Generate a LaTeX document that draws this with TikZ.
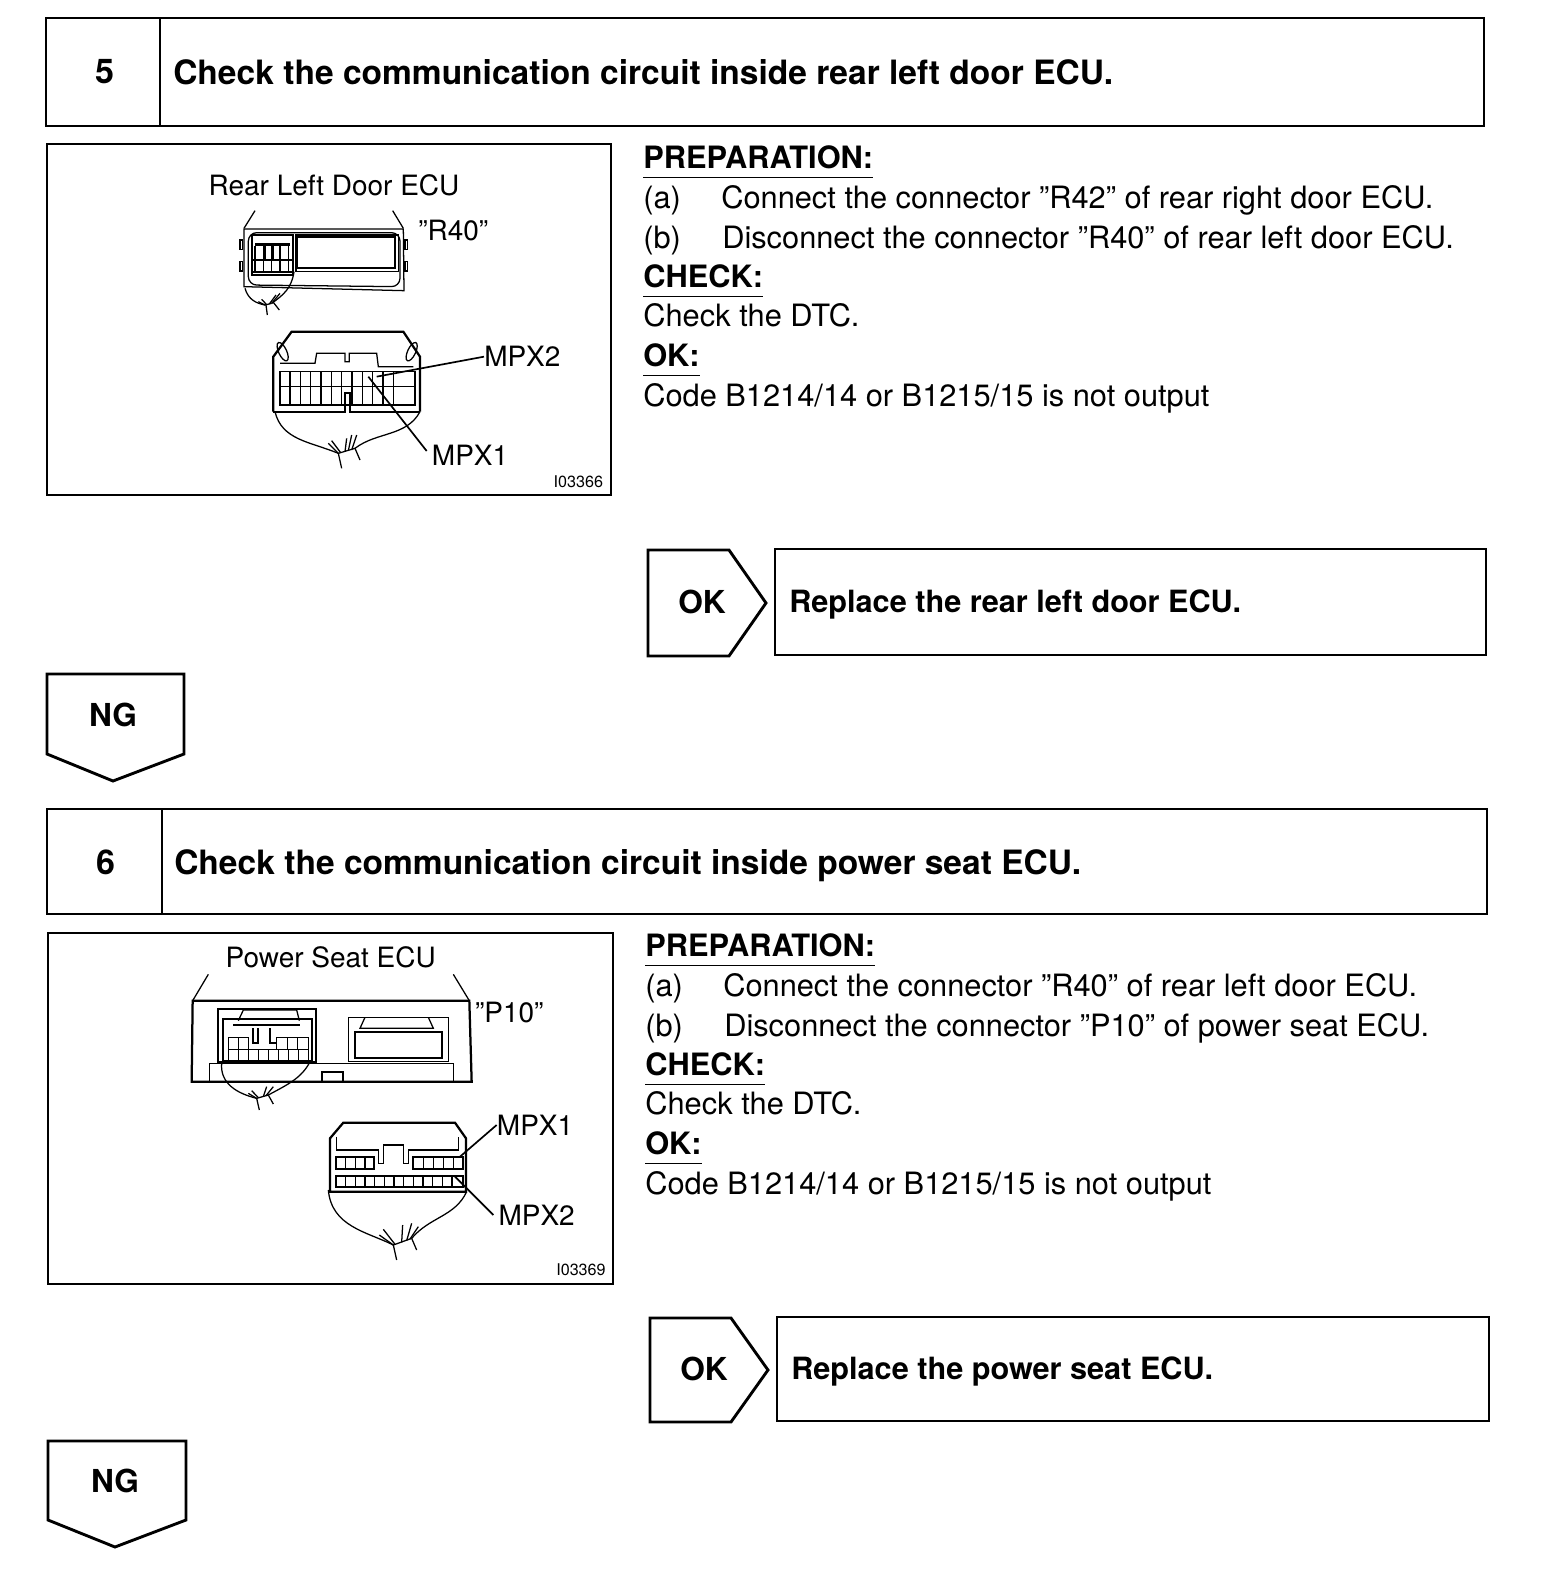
\documentclass[tikz,border=0pt]{standalone}
\usepackage{fontspec}
\setmainfont{TeX Gyre Heros}
\usetikzlibrary{positioning, calc}

\tikzset{
    frame/.style={draw=black, line width=2.05pt, fill=white},
    rule/.style={black, line width=1pt},
    fine/.style={black, line width=0.9pt},
    heavy/.style={black, line width=1.6pt},
    leader/.style={black, line width=1.2pt},
    title/.style={font=\bfseries\fontsize{23.85}{28}\selectfont, anchor=base west, inner sep=0pt},
    number/.style={font=\bfseries\fontsize{24.2}{28}\selectfont, inner sep=0pt},
    answer/.style={font=\bfseries\fontsize{22.5}{26}\selectfont, inner sep=0pt},
    remedy/.style={font=\bfseries\fontsize{21.8}{26}\selectfont, anchor=base west, inner sep=0pt},
    body/.style={font=\fontsize{21.9}{26}\selectfont, anchor=base west, inner sep=0pt},
    head/.style={font=\bfseries\fontsize{21.9}{26}\selectfont, anchor=base west, inner xsep=0pt, inner ysep=6.6pt, text depth=0pt},
    callout/.style={font=\fontsize{19.9}{24}\selectfont, inner sep=0pt},
    figno/.style={font=\fontsize{11.5}{14}\selectfont, inner sep=0pt},
}

\begin{document}
\begin{tikzpicture}[x=0.25mm, y=-0.25mm]

\useasboundingbox (0,0) rectangle (1568,1576);

% ---------------------------------------------------------------- step 5
\draw[frame] (46,18) rectangle (1484,126);
\draw[frame] (160,18) -- (160,126);
\node[number] (numA) at (105,72) {5};
\node[title] (titleA) at (173,84) {Check the communication circuit inside rear left door ECU.};

\draw[frame] (47,144) rectangle (611,495);

\node[head] (prepA) at (643,168) {PREPARATION:};
\draw[rule] (prepA.south west) -- (prepA.south east);
\node[body] (itemAa) at (643,208) {(a)};
\node[body] (textAa) at (721,208) {Connect the connector ”R42” of rear right door ECU.};
\node[body] (itemAb) at (643,248) {(b)};
\node[body] (textAb) at (722,248) {Disconnect the connector ”R40” of rear left door ECU.};
\node[head] (checkA) at (643,287) {CHECK:};
\draw[rule] (checkA.south west) -- (checkA.south east);
\node[body] (dtcA) at (643,326) {Check the DTC.};
\node[head] (okA) at (643,366) {OK:};
\draw[rule] (okA.south west) -- (okA.south east);
\node[body] (codeA) at (643,406) {Code B1214/14 or B1215/15 is not output};

% ---------------------------------------------------------------- drawing of step 5, in crop pixels
\begin{scope}[shift={(190,160)}, scale=1/3]
    \node[callout] (ecuA) at (432,75) {Rear Left Door ECU};
    \node[callout] (plugA) at (790,212) {”R40”};
    \node[callout, anchor=west] (mpxAb) at (882,590) {MPX2};
    \node[callout, anchor=west] (mpxAa) at (725,885) {MPX1};
    \node[figno, anchor=east] (noA) at (1240,965) {I03366};

    % the ECU
    \draw[fine] (195,152) -- (162,205);
    \draw[fine] (608,152) -- (640,205);
    \draw[fine] (162,207) -- (640,207) -- (642,392) -- (162,380) -- cycle;
    \draw[fine, rounded corners=6pt] (175,218) -- (630,218) -- (630,380) -- (175,375) -- cycle;
    \draw[heavy] (185,225) rectangle (310,345);
    \draw[heavy] (322,232) rectangle (615,325);
    \draw[fine] (318,225) rectangle (625,335);
    \foreach \x/\y in {150/240, 150/305, 645/240, 645/305} {
        \draw[fine] (\x,\y) rectangle ++(8,28);
    }
    \fill (195,250) rectangle (300,258);
    \foreach \x in {195,220,...,295} {
        \draw[fine] (\x,258) -- (\x,335);
    }
    \draw[fine] (190,300) -- (305,300);
    \draw[heavy] (190,335) -- (305,335);
    \draw[heavy] (225,258) -- (225,300) -- (250,300) -- (250,258);

    % its wires
    \draw[fine] (165,385) .. controls (175,420) and (200,430) .. (225,435) -- (245,430);
    \draw[fine] (312,335) .. controls (305,385) and (280,405) .. (245,430);
    \foreach \xa/\ya/\xb/\yb in {225/435/205/425, 230/434/215/418, 238/432/258/405, 245/430/270/400, 228/435/232/465, 250/427/268/450} {
        \draw[fine] (\xa,\ya) -- (\xb,\yb);
    }

    % the connector
    \draw[heavy] (250,755) -- (250,590) -- (305,515) -- (640,515) -- (690,590) -- (690,755);
    \draw[heavy] (250,755) -- (465,755) -- (465,700) -- (480,700) -- (480,755) -- (690,755);
    \draw[fine] (270,610) -- (375,610) -- (380,580) -- (465,580) -- (465,605) -- (478,605)
        -- (478,580) -- (560,580) -- (565,620) -- (670,620);
    \draw[fine, rotate around={25:(278,575)}] (278,575) ellipse (12 and 30);
    \draw[fine, rotate around={-25:(665,575)}] (665,575) ellipse (12 and 30);
    \draw[fine] (270,635) rectangle (675,735);
    \draw[fine] (270,680) -- (675,680);
    \foreach \x in {300,331,...,640} {
        \draw[fine] (\x,635) -- (\x,735);
    }

    % its wires
    \draw[fine] (255,755) .. controls (275,840) and (360,845) .. (445,880) -- (495,865);
    \draw[fine] (690,755) .. controls (650,830) and (560,815) .. (495,865);
    \foreach \xa/\ya/\xb/\yb in {445/880/415/850, 452/878/425/842, 465/875/470/835, 475/872/485/825, 485/870/500/825, 445/880/455/925, 495/865/510/900} {
        \draw[fine] (\xa,\ya) -- (\xb,\yb);
    }

    % the pins that are named
    \coordinate (pinAb) at (560,650);
    \coordinate (pinAa) at (535,650);
    \draw[leader] (mpxAb.west) -- (pinAb);
    \draw[leader] (mpxAa.west) ++(-15,-12) -- (pinAa);
\end{scope}

% ---------------------------------------------------------------- result of step 5
\draw[frame] (648,550) -- (729,550) -- (766,603) -- (729,656) -- (648,656) -- cycle;
\node[answer] (passA) at (702,602) {OK};
\draw[frame] (775,549) rectangle (1486,655);
\node[remedy] (fixA) at (789,612) {Replace the rear left door ECU.};
\draw[frame] (47,674) -- (184,674) -- (184,754) -- (113,781) -- (47,754) -- cycle;
\node[answer] (failA) at (113,715) {NG};

% ---------------------------------------------------------------- step 6
\draw[frame] (47,809) rectangle (1487,914);
\draw[frame] (162,809) -- (162,914);
\node[number] (numB) at (106,862) {6};
\node[title] (titleB) at (174,874) {Check the communication circuit inside power seat ECU.};

\draw[frame] (48,933) rectangle (613,1284);

\node[head] (prepB) at (645,956) {PREPARATION:};
\draw[rule] (prepB.south west) -- (prepB.south east);
\node[body] (itemBa) at (645,996) {(a)};
\node[body] (textBa) at (723,996) {Connect the connector ”R40” of rear left door ECU.};
\node[body] (itemBb) at (645,1036) {(b)};
\node[body] (textBb) at (724,1036) {Disconnect the connector ”P10” of power seat ECU.};
\node[head] (checkB) at (645,1075) {CHECK:};
\draw[rule] (checkB.south west) -- (checkB.south east);
\node[body] (dtcB) at (645,1114) {Check the DTC.};
\node[head] (okB) at (645,1154) {OK:};
\draw[rule] (okB.south west) -- (okB.south east);
\node[body] (codeB) at (645,1194) {Code B1214/14 or B1215/15 is not output};

% ---------------------------------------------------------------- drawing of step 6, in crop pixels
\begin{scope}[shift={(180,930)}, scale=1/3]
    \node[callout] (ecuB) at (452,82) {Power Seat ECU};
    \node[callout] (plugB) at (988,248) {”P10”};
    \node[callout, anchor=west] (mpxBa) at (950,585) {MPX1};
    \node[callout, anchor=west] (mpxBb) at (955,855) {MPX2};
    \node[figno, anchor=east] (noB) at (1278,1020) {I03369};

    % the ECU
    \draw[fine] (85,133) -- (38,212);
    \draw[fine] (820,133) -- (868,212);
    \draw[heavy] (38,212) -- (868,212) -- (875,455) -- (35,455) -- cycle;
    \draw[fine] (88,455) -- (88,400) -- (820,400) -- (820,455);
    \draw[heavy] (425,452) -- (425,425) -- (488,425) -- (488,452);
    \draw[heavy] (115,238) rectangle (408,395);
    \draw[heavy] (130,268) rectangle (395,392);
    \draw[fine] (175,272) -- (190,240) -- (350,240) -- (358,272);
    \draw[heavy] (160,285) -- (360,285);
    \draw[heavy] (220,295) -- (220,340) -- (235,340) -- (235,295);
    \draw[heavy] (270,295) -- (270,340) -- (290,340);
    \draw[fine] (145,322) -- (205,322);
    \draw[fine] (290,322) -- (385,322);
    \draw[fine] (145,358) rectangle (385,392);
    \foreach \x in {145,175,205} {
        \draw[fine] (\x,322) -- (\x,358);
    }
    \foreach \x in {290,322,353,385} {
        \draw[fine] (\x,322) -- (\x,358);
    }
    \foreach \x in {175,205,...,355} {
        \draw[fine] (\x,358) -- (\x,392);
    }
    \draw[fine] (505,262) rectangle (805,395);
    \draw[heavy] (525,305) rectangle (785,385);
    \draw[fine] (555,262) -- (540,295) -- (760,295) -- (745,262);

    % its wires
    \draw[fine] (125,400) .. controls (120,460) and (170,490) .. (230,505) -- (265,495);
    \draw[fine] (390,395) .. controls (365,445) and (320,465) .. (265,495);
    \foreach \xa/\ya/\xb/\yb in {230/505/205/490, 235/503/215/482, 250/500/260/470, 258/497/280/470, 230/505/238/540, 265/495/280/522} {
        \draw[fine] (\xa,\ya) -- (\xb,\yb);
    }

    % the connector
    \draw[heavy] (450,785) -- (450,625) -- (490,578) -- (825,578) -- (858,625) -- (858,785) -- cycle;
    \draw[fine] (470,620) -- (470,660) -- (595,660) -- (595,700) -- (610,700) -- (610,645)
        -- (670,645) -- (670,700) -- (685,700) -- (685,660) -- (835,660) -- (835,620);
    \draw[heavy] (468,682) rectangle (582,718);
    \draw[heavy] (700,682) rectangle (850,718);
    \draw[heavy] (468,738) rectangle (850,772);
    \foreach \x in {497,526,555} {
        \draw[fine] (\x,682) -- (\x,718);
    }
    \foreach \x in {730,760,790,820} {
        \draw[fine] (\x,682) -- (\x,718);
    }
    \foreach \x in {497,526,...,830} {
        \draw[fine] (\x,738) -- (\x,772);
    }

    % its wires
    \draw[fine] (445,780) .. controls (455,890) and (560,905) .. (640,945) -- (695,925);
    \draw[fine] (860,785) .. controls (825,860) and (750,860) .. (695,925);
    \foreach \xa/\ya/\xb/\yb in {640/945/598/915, 645/943/610/898, 665/937/668/885, 680/932/695/880, 690/927/715/890, 640/945/650/990, 695/925/710/960} {
        \draw[fine] (\xa,\ya) -- (\xb,\yb);
    }

    % the pins that are named
    \coordinate (pinBa) at (840,680);
    \coordinate (pinBb) at (825,740);
    \draw[leader] (mpxBa.west) -- (pinBa);
    \draw[leader] (mpxBb.west) ++(-15,0) -- (pinBb);
\end{scope}

% ---------------------------------------------------------------- result of step 6
\draw[frame] (650,1318) -- (731,1318) -- (768,1370) -- (731,1422) -- (650,1422) -- cycle;
\node[answer] (passB) at (704,1369) {OK};
\draw[frame] (777,1317) rectangle (1489,1421);
\node[remedy] (fixB) at (791,1379) {Replace the power seat ECU.};
\draw[frame] (48,1441) -- (186,1441) -- (186,1520) -- (115,1547) -- (48,1520) -- cycle;
\node[answer] (failB) at (115,1481) {NG};

\end{tikzpicture}
\end{document}
